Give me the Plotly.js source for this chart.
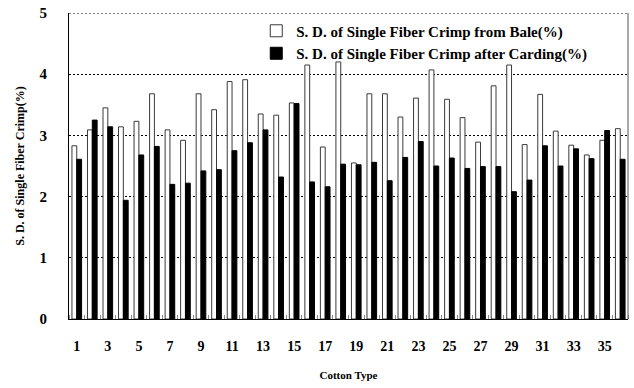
<!DOCTYPE html>
<html>
<head>
<meta charset="utf-8">
<script src="https://cdn.plot.ly/plotly-3.0.1.min.js"></script>
<style>
  html, body { margin: 0; padding: 0; background: #fff; }
  #chart { width: 634px; height: 388px; }
</style>
</head>
<body>
<div id="chart"></div>
<script>
// Cotton type numbers 1..36
const cottonTypes = [1, 2, 3, 4, 5, 6, 7, 8, 9, 10, 11, 12, 13, 14, 15, 16, 17, 18,
                     19, 20, 21, 22, 23, 24, 25, 26, 27, 28, 29, 30, 31, 32, 33, 34, 35, 36];

// S.D. of single fiber crimp measured on fibers from the bale (%)
const sdFromBale = [2.83, 3.09, 3.45, 3.14, 3.23, 3.68, 3.09, 2.92, 3.68, 3.42, 3.88, 3.91,
                    3.35, 3.33, 3.53, 4.15, 2.81, 4.20, 2.55, 3.68, 3.68, 3.30, 3.61, 4.07,
                    3.59, 3.29, 2.89, 3.81, 4.15, 2.85, 3.67, 3.07, 2.84, 2.68, 2.92, 3.11];

// S.D. of single fiber crimp measured after carding (%)
const sdAfterCarding = [2.61, 3.25, 3.14, 1.94, 2.68, 2.82, 2.20, 2.22, 2.42, 2.44, 2.75, 2.88,
                        3.09, 2.32, 3.52, 2.24, 2.16, 2.53, 2.52, 2.56, 2.26, 2.64, 2.90, 2.50,
                        2.63, 2.46, 2.49, 2.49, 2.08, 2.27, 2.83, 2.50, 2.78, 2.62, 3.08, 2.61];

// Labelled ticks on the category axis
const xTickVals = [1, 3, 5, 7, 9, 11, 13, 15, 17, 19, 21, 23, 25, 27, 29, 31, 33, 35];
const xTickText = xTickVals.map(String);
const yTickVals = [0, 1, 2, 3, 4, 5];

const serif = '"Liberation Serif", "Times New Roman", serif';

const traces = [
  {
    type: 'bar',
    name: 'S. D. of Single Fiber Crimp from Bale(%)',
    x: cottonTypes,
    y: sdFromBale,
    marker: { color: '#ffffff', line: { color: '#3a3a3a', width: 1 } },
    hoverinfo: 'x+y'
  },
  {
    type: 'bar',
    name: 'S. D. of Single Fiber Crimp after Carding(%)',
    x: cottonTypes,
    y: sdAfterCarding,
    marker: { color: '#000000', line: { color: '#000000', width: 1 } },
    hoverinfo: 'x+y'
  }
];

const layout = {
  width: 634,
  height: 388,
  margin: { l: 69, r: 6, t: 13, b: 69 },
  paper_bgcolor: '#ffffff',
  plot_bgcolor: '#ffffff',
  barmode: 'group',
  bargap: 0.38,
  bargroupgap: 0,
  font: { family: serif, color: '#000000' },
  showlegend: true,
  legend: {
    x: 0.335, y: 0.995, xanchor: 'left', yanchor: 'top',
    bgcolor: 'rgba(0,0,0,0)',
    font: { family: serif, size: 15, color: '#000000', weight: 'bold' },
    traceorder: 'normal',
    tracegroupgap: 0
  },
  xaxis: {
    type: 'linear',
    range: [0.5, 36.5],
    tickvals: xTickVals,
    ticktext: xTickText,
    ticks: '',
    ticklabelstandoff: 14,
    tickfont: { family: serif, size: 14, color: '#000000', weight: 'bold' },
    showgrid: false,
    zeroline: false,
    showline: true,
    linecolor: '#000000',
    linewidth: 1,
    minor: { ticks: 'inside', ticklen: 4, tickcolor: '#8a8a8a', tickwidth: 1, tick0: 0.5, dtick: 1, showgrid: false },
    title: { text: 'Cotton Type', font: { family: serif, size: 11, color: '#000000', weight: 'bold' }, standoff: 18 }
  },
  yaxis: {
    range: [0, 5],
    tickvals: yTickVals,
    ticks: '',
    ticklabelstandoff: 18,
    tickfont: { family: serif, size: 15, color: '#000000', weight: 'bold' },
    showgrid: true,
    gridcolor: '#000000',
    gridwidth: 1,
    griddash: '2px,2px',
    zeroline: false,
    showline: true,
    linecolor: '#000000',
    linewidth: 1,
    title: { text: 'S. D. of Single Fiber Crimp(%)', font: { family: serif, size: 12, color: '#000000', weight: 'bold' }, standoff: 12 }
  },
  shapes: [
    // dotted line along the top of the plot at y = 5
    { type: 'line', xref: 'paper', yref: 'y', x0: 0, x1: 1, y0: 5, y1: 5,
      line: { color: '#000000', width: 1, dash: '2px,2px' } },
    // solid right-hand frame edge
    { type: 'line', xref: 'paper', yref: 'paper', x0: 1, x1: 1, y0: 0, y1: 1,
      line: { color: '#555555', width: 1 } }
  ]
};

Plotly.newPlot('chart', traces, layout, { displayModeBar: false, staticPlot: true });
</script>
</body>
</html>
